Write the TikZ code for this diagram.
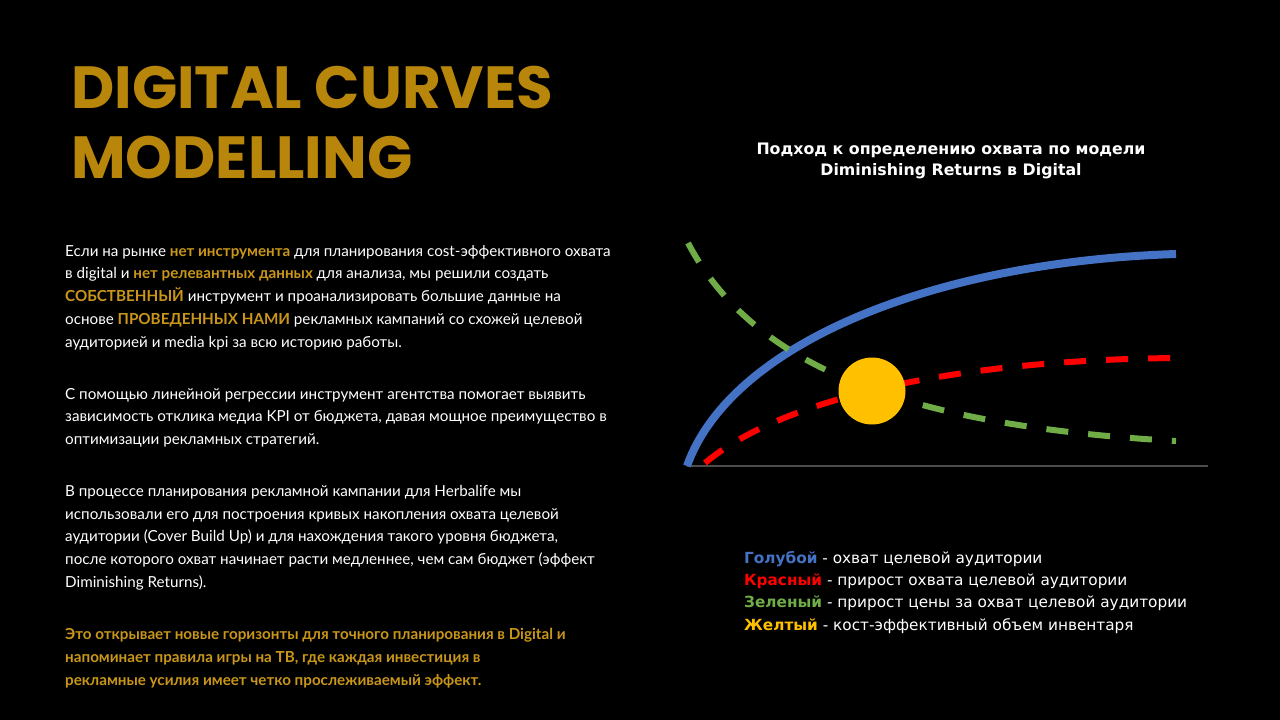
\documentclass[tikz,border=0pt]{standalone}
\usepackage{fontspec}
\setmainfont{Lato}
\newfontfamily\titlefont{Poppins}
\newfontfamily\widefont{DejaVu Sans}
\definecolor{gold}{RGB}{184,134,11}
\definecolor{hlgold}{RGB}{201,150,26}
\definecolor{reach}{RGB}{68,114,196}
\definecolor{gain}{RGB}{255,0,0}
\definecolor{price}{RGB}{112,173,71}
\definecolor{sun}{RGB}{255,192,0}
\newcommand{\hlt}[1]{\textcolor{hlgold}{\textbf{#1}}}

\begin{document}
\begin{tikzpicture}[x=1pt, y=-1pt,
    body/.style={anchor=north west, inner sep=0pt, align=left, text=white, font=\fontsize{15.2}{22.75}\selectfont},
    legend/.style={anchor=north west, inner sep=0pt, align=left, text=white, font=\widefont\fontsize{15.3}{22.3}\selectfont},
    curve/.style={line width=8pt},
    dashcurve/.style={line width=6pt, dash pattern=on 22pt off 20pt}]
    \useasboundingbox[fill=black] (0,0) rectangle (1280,720);

    % title
    \node[anchor=north west, inner sep=0pt, align=left, text=gold, font=\titlefont\bfseries\fontsize{59.5}{70}\selectfont] (title) at (71,66) {DIGITAL CURVES\\MODELLING};

    % left text
    \node[body] (p1) at (65,245) {Если на рынке \hlt{нет инструмента} для планирования cost-эффективного охвата\\
        в digital и \hlt{нет релевантных данных} для анализа, мы решили создать\\
        \hlt{СОБСТВЕННЫЙ} инструмент и проанализировать большие данные на\\
        основе \hlt{ПРОВЕДЕННЫХ НАМИ} рекламных кампаний со схожей целевой\\
        аудиторией и media kpi за всю историю работы.};
    \node[body] (p2) at (65,388) {С помощью линейной регрессии инструмент агентства помогает выявить\\
        зависимость отклика медиа KPI от бюджета, давая мощное преимущество в\\
        оптимизации рекламных стратегий.};
    \node[body] (p3) at (65,485) {В процессе планирования рекламной кампании для Herbalife мы\\
        использовали его для построения кривых накопления охвата целевой\\
        аудитории (Cover Build Up) и для нахождения такого уровня бюджета,\\
        после которого охват начинает расти медленнее, чем сам бюджет (эффект\\
        Diminishing Returns).};
    \node[body, text=hlgold, font=\bfseries\fontsize{15.2}{22.75}\selectfont] (p4) at (65,628) {Это открывает новые горизонты для точного планирования в Digital и\\
        напоминает правила игры на ТВ, где каждая инвестиция в\\
        рекламные усилия имеет четко прослеживаемый эффект.};

    % chart
    \node[align=center, text=white, inner sep=0pt, font=\widefont\bfseries\fontsize{15.8}{21.5}\selectfont] (charttitle) at (951,161) {Подход к определению охвата по модели\\Diminishing Returns в Digital};
    \coordinate (o) at (687,466);
    \coordinate (xend) at (1208,466);
    \draw[gray!60!black, line width=1.5pt] (o) -- (xend);
    \draw[curve, reach] (o) .. controls (730,345) and (930,262) .. (1176,254);
    \draw[dashcurve, gain] (705,463) .. controls (780,400) and (950,360) .. (1176,358);
    \draw[dashcurve, price] (688,243) .. controls (750,360) and (890,425) .. (1176,441);
    \node[circle, fill=sun, minimum size=67pt, inner sep=0pt] (point) at (872,391) {};

    % legend
    \node[legend] (leg) at (744,551) {\textbf{\textcolor{reach}{Голубой}} - охват целевой аудитории\\
        \textbf{\textcolor{gain}{Красный}} - прирост охвата целевой аудитории\\
        \textbf{\textcolor{price}{Зеленый}} - прирост цены за охват целевой аудитории\\
        \textbf{\textcolor{sun}{Желтый}} - кост-эффективный объем инвентаря};
\end{tikzpicture}
\end{document}
